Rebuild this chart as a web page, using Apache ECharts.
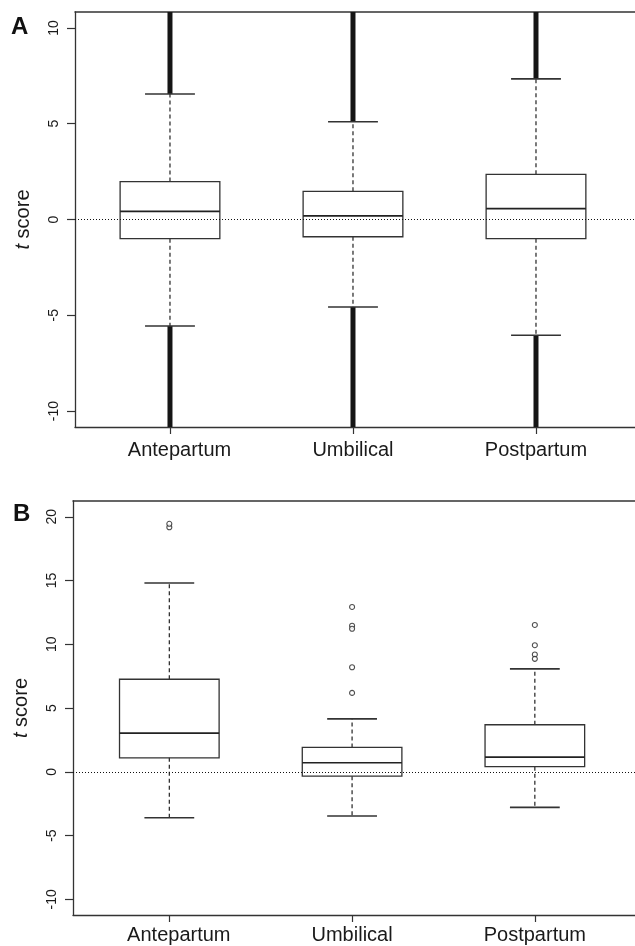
<!DOCTYPE html>
<html>
<head>
<meta charset="utf-8">
<script src="https://cdn.jsdelivr.net/npm/echarts@6/dist/echarts.min.js"></script>
<style>
  html, body { margin: 0; padding: 0; background: #fff; }
  #chart { width: 635px; height: 946px; }
</style>
</head>
<body>
<div id="chart"></div>
<script>
// ---------------- data ----------------
const categories = ['Antepartum', 'Umbilical', 'Postpartum'];
const yTicksA = [-10, -5, 0, 5, 10];
const yTicksB = [-10, -5, 0, 5, 10, 15, 20];

// Panel A (lower whisker, Q1, median, Q3, upper whisker)
const aLowWhisker = [-5.56, -4.57, -6.04];
const aQ1 = [-1.0, -0.9, -1.0];
const aMedian = [0.42, 0.19, 0.57];
const aQ3 = [1.98, 1.47, 2.36];
const aHighWhisker = [6.55, 5.1, 7.34];
// dense outliers run past the plotted range in panel A
const aOutlierMin = [-12, -12, -12];
const aOutlierMax = [12, 12, 12];

// Panel B
const bLowWhisker = [-3.6, -3.47, -2.79];
const bQ1 = [1.1, -0.34, 0.4];
const bMedian = [3.03, 0.71, 1.15];
const bQ3 = [7.26, 1.91, 3.69];
const bHighWhisker = [14.81, 4.15, 8.07];
const bOutliers = [
  [19.18, 19.45],
  [12.93, 11.46, 11.22, 8.2, 6.19],
  [11.52, 9.93, 9.2, 8.86]
];

// ---------------- styling ----------------
const FONT = "'Liberation Sans', Arial, Helvetica, sans-serif";
const TXT = '#1a1a1a';
const LINE = '#333';
const BOX_W = 0.545;

function buildRows(lo, q1, med, q3, hi, oLo, oHi) {
  return categories.map((c, i) => [i + 1, lo[i], q1[i], med[i], q3[i], hi[i],
    oLo ? oLo[i] : NaN, oHi ? oHi[i] : NaN]);
}

function renderBox(params, api) {
  const x = api.value(0);
  const lo = api.value(1), q1 = api.value(2), med = api.value(3), q3 = api.value(4), hi = api.value(5);
  const oLo = api.value(6), oHi = api.value(7);
  const half = api.size([BOX_W, 0])[0] / 2;
  const capHalf = half / 2;
  const P = v => api.coord([x, v]);
  const pLo = P(lo), pQ1 = P(q1), pMed = P(med), pQ3 = P(q3), pHi = P(hi);
  const cx = pMed[0];
  const children = [];
  const seg = (x1, y1, x2, y2, style) => children.push({
    type: 'line', shape: { x1, y1, x2, y2 }, style: Object.assign({ stroke: LINE, lineWidth: 1.2 }, style)
  });
  if (!isNaN(oHi)) {
    const p = P(oHi);
    seg(cx, pHi[1], cx, p[1], { stroke: '#151515', lineWidth: 5 });
  }
  if (!isNaN(oLo)) {
    const p = P(oLo);
    seg(cx, pLo[1], cx, p[1], { stroke: '#151515', lineWidth: 5 });
  }
  // dashed whiskers
  seg(cx, pQ3[1], cx, pHi[1], { lineDash: [4, 3], lineWidth: 1.2, stroke: '#222' });
  seg(cx, pQ1[1], cx, pLo[1], { lineDash: [4, 3], lineWidth: 1.2, stroke: '#222' });
  // caps
  seg(cx - capHalf, pHi[1], cx + capHalf, pHi[1], { lineWidth: 1.6 });
  seg(cx - capHalf, pLo[1], cx + capHalf, pLo[1], { lineWidth: 1.6 });
  // box
  children.push({
    type: 'rect',
    shape: { x: cx - half, y: pQ3[1], width: half * 2, height: pQ1[1] - pQ3[1] },
    style: { fill: 'none', stroke: LINE, lineWidth: 1.3 }
  });
  // median
  seg(cx - half, pMed[1], cx + half, pMed[1], { lineWidth: 1.7, stroke: '#222' });
  return { type: 'group', children };
}

function xAxisPair(grid, min, max, margin) {
  return [{
    gridIndex: grid, type: 'value', min, max,
    axisLine: { show: true, onZero: false, lineStyle: { color: LINE, width: 1.3 } },
    axisTick: { show: true, customValues: [1, 2, 3], length: 7, lineStyle: { color: LINE, width: 1.2 } },
    axisLabel: {
      show: true, customValues: [1, 2, 3], margin,
      formatter: v => (v === 1 ? '{s|' + categories[0] + '}' : '{n|' + categories[v - 1] + '}'),
      rich: {
        s: { fontSize: 20, fontFamily: FONT, color: TXT, padding: [0, 0, 0, 19] },
        n: { fontSize: 20, fontFamily: FONT, color: TXT }
      }
    },
    splitLine: { show: false }
  }, {
    gridIndex: grid, type: 'value', min, max, position: 'top',
    axisLine: { show: true, onZero: false, lineStyle: { color: LINE, width: 1.5 } },
    axisTick: { show: false }, axisLabel: { show: false }, splitLine: { show: false }
  }];
}

function yAxisDef(grid, min, max, ticks) {
  return {
    gridIndex: grid, type: 'value', min, max,
    name: '{i|t} score', nameLocation: 'middle', nameGap: 42, nameRotate: 90,
    nameTextStyle: {
      fontSize: 20, fontFamily: FONT, color: TXT,
      rich: { i: { fontSize: 20, fontFamily: FONT, fontStyle: 'italic', color: TXT } }
    },
    axisLine: { show: true, onZero: false, lineStyle: { color: LINE, width: 1.3 } },
    axisTick: { show: true, customValues: ticks, length: 8, lineStyle: { color: LINE, width: 1.2 } },
    axisLabel: {
      show: true, customValues: ticks, rotate: 90, margin: 14,
      fontSize: 14, fontFamily: FONT, color: TXT
    },
    splitLine: { show: false }
  };
}

const zeroLine = {
  silent: true, symbol: 'none', label: { show: false },
  lineStyle: { type: [1, 2], color: '#111', width: 1 },
  data: [{ yAxis: 0 }]
};

const outlierPoints = [];
bOutliers.forEach((arr, i) => arr.forEach(v => outlierPoints.push([i + 1, v])));

const chart = echarts.init(document.getElementById('chart'), null, { renderer: 'canvas' });
chart.setOption({
  animation: false,
  backgroundColor: '#fff',
  title: [
    { text: 'A', left: 6, top: 10, textStyle: { fontSize: 24, fontWeight: 'bold', fontFamily: FONT, color: '#111' } },
    { text: 'B', left: 8, top: 497, textStyle: { fontSize: 24, fontWeight: 'bold', fontFamily: FONT, color: '#111' } }
  ],
  grid: [
    { left: 75, right: 0, top: 12, height: 415 },
    { left: 73, right: 0, top: 501, height: 414 }
  ],
  xAxis: [].concat(xAxisPair(0, 0.481, 3.541, 13), xAxisPair(1, 0.473, 3.548, 10)),
  yAxis: [yAxisDef(0, -10.83, 10.83, yTicksA), yAxisDef(1, -11.23, 21.24, yTicksB)],
  series: [
    {
      type: 'custom', xAxisIndex: 0, yAxisIndex: 0, clip: true,
      renderItem: renderBox,
      encode: { x: 0, y: [1, 2, 3, 4, 5] },
      data: buildRows(aLowWhisker, aQ1, aMedian, aQ3, aHighWhisker, aOutlierMin, aOutlierMax),
      markLine: zeroLine
    },
    {
      type: 'custom', xAxisIndex: 2, yAxisIndex: 1, clip: true,
      renderItem: renderBox,
      encode: { x: 0, y: [1, 2, 3, 4, 5] },
      data: buildRows(bLowWhisker, bQ1, bMedian, bQ3, bHighWhisker, null, null),
      markLine: zeroLine
    },
    {
      type: 'scatter', xAxisIndex: 2, yAxisIndex: 1,
      symbol: 'circle', symbolSize: 5,
      itemStyle: { color: '#fff', borderColor: '#222', borderWidth: 1.1 },
      data: outlierPoints
    }
  ]
});
</script>
</body>
</html>
